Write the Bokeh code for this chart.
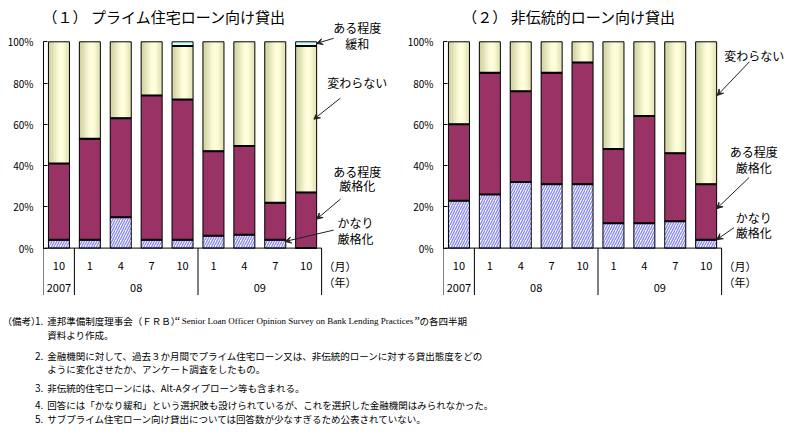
import numpy as np
from bokeh.plotting import figure
from bokeh.models import (Range1d, FixedTicker, PrintfTickFormatter, ColumnDataSource,
                          Arrow, VeeHead)
from bokeh.layouts import column, row
from bokeh.transform import dodge
from bokeh.core.properties import value
from bokeh.embed import file_html
from bokeh.resources import INLINE

# ---------------- data ----------------
months = ["10", "1", "4", "7", "10", "1", "4", "7", "10"]
years = ["2007", "08", "09"]
year_counts = [1, 4, 4]
month_unit = "（月）"
year_unit = "（年）"

title_prime = "（１） プライム住宅ローン向け貸出"
title_nontrad = "（２） 非伝統的ローン向け貸出"

# (1) prime mortgages, % of respondents
prime_much = [4, 4, 15, 4, 4, 6, 6.5, 4, 0]          # かなり厳格化
prime_some = [37, 49, 48, 70, 68, 41, 43, 18, 27]    # ある程度厳格化
prime_unch = [59, 47, 37, 26, 26, 53, 50.5, 78, 71]  # 変わらない
prime_ease = [0, 0, 0, 0, 2, 0, 0, 0, 2]             # ある程度緩和

# (2) nontraditional mortgages
nontrad_much = [23, 26, 32, 31, 31, 12, 12, 13, 4]
nontrad_some = [37, 59, 44, 54, 59, 36, 52, 33, 27]
nontrad_unch = [40, 15, 24, 15, 10, 52, 36, 54, 69]
nontrad_ease = [0, 0, 0, 0, 0, 0, 0, 0, 0]

y_ticks = [0, 20, 40, 60, 80, 100]

notes_head = "（備考）"
notes_numbers = ["1.", "2.", "3.", "4.", "5."]
note1_a = "連邦準備制度理事会（ＦＲＢ）"
note1_en = "Senior Loan Officer Opinion Survey on Bank Lending Practices"
note1_c = "の各四半期"
note_lines = [
    "資料より作成。",
    "金融機関に対して、過去３か月間でプライム住宅ローン又は、非伝統的ローンに対する貸出態度をどの",
    "ように変化させたか、アンケート調査をしたもの。",
    "非伝統的住宅ローンには、Alt-Aタイプローン等も含まれる。",
    "回答には「かなり緩和」という選択肢も設けられているが、これを選択した金融機関はみられなかった。",
    "サブプライム住宅ローン向け貸出については回答数が少なすぎるため公表されていない。",
]

# ---------------- style ----------------
JP = "Noto Sans CJK JP"
PX_X = 30.9      # pixels per category
PX_Y = 2.063     # pixels per percent
TOP_PX = 41.3    # pixel row of 100%
BAR_W = 0.68
MAROON = "#993366"
EASE = "#CCFFFF"
HATCH = "#8a8af2"
H = 300


def grad(t):
    left = np.array([212, 212, 166])
    peak = np.array([255, 255, 222])
    right = np.array([228, 228, 184])
    tp = 0.62
    if t < tp:
        s = 0.5 - 0.5 * np.cos(np.pi * t / tp)
        c = left + (peak - left) * s
    else:
        s = 0.5 - 0.5 * np.cos(np.pi * (1 - t) / (1 - tp))
        c = right + (peak - right) * s
    return "#%02x%02x%02x" % tuple(int(round(v)) for v in c)


def make_chart(width, title, much, some, unch, ease, ann):
    n = len(months)
    frame_w = width - 43
    y_max = 100 + TOP_PX / PX_Y
    p = figure(width=width, height=H, output_backend="svg", toolbar_location=None,
               x_range=Range1d(0, frame_w / PX_X),
               y_range=Range1d(y_max - H / PX_Y, y_max),
               x_axis_location=None,
               min_border_left=43, min_border_right=0,
               min_border_top=0, min_border_bottom=0)
    p.outline_line_color = None
    p.xgrid.visible = False
    p.ygrid.visible = False
    p.background_fill_color = "white"
    p.border_fill_color = "white"

    ax = p.yaxis[0]
    ax.ticker = FixedTicker(ticks=y_ticks)
    ax.formatter = PrintfTickFormatter(format="%d%%")
    ax.bounds = (0, 100)
    ax.major_tick_in = 4
    ax.major_tick_out = 0
    ax.minor_tick_line_color = None
    ax.axis_line_color = "black"
    ax.major_tick_line_color = "black"
    ax.major_label_text_font = JP
    ax.major_label_text_font_size = "10px"
    ax.major_label_text_color = "black"
    ax.major_label_standoff = 10

    much = np.array(much, float)
    some = np.array(some, float)
    unch = np.array(unch, float)
    ease = np.array(ease, float)
    t1 = much
    t2 = t1 + some
    t3 = t2 + unch
    t4 = t3 + ease
    xs = np.arange(n) + 0.5
    src = ColumnDataSource(dict(x=xs, t1=t1, t2=t2, t3=t3, t4=t4))

    # かなり厳格化 (hatched)
    p.vbar(x="x", bottom=0, top="t1", width=BAR_W, source=src,
           fill_color="white", hatch_pattern="/", hatch_color=HATCH,
           hatch_scale=5, hatch_weight=1.4, line_color="black", line_width=1)
    # ある程度厳格化
    p.vbar(x="x", bottom="t1", top="t2", width=BAR_W, source=src,
           fill_color=MAROON, line_color="black", line_width=1)
    # 変わらない (shaded)
    p.vbar(x="x", bottom="t2", top="t3", width=BAR_W, source=src,
           fill_color="#FFFFCC", line_color=None)
    ns = 14
    sw = BAR_W / ns
    for i in range(ns):
        off = -BAR_W / 2 + (i + 0.5) * sw
        p.vbar(x=dodge("x", off), bottom="t2", top="t3", width=sw * 1.25,
               source=src, fill_color=grad((i + 0.5) / ns), line_color=None)
    p.vbar(x="x", bottom="t2", top="t3", width=BAR_W, source=src,
           fill_color=None, line_color="black", line_width=1)
    # ある程度緩和
    has_ease = ease > 0
    esrc = ColumnDataSource(dict(x=xs[has_ease], t3=t3[has_ease], t4=t4[has_ease]))
    p.vbar(x="x", bottom="t3", top="t4", width=BAR_W, source=esrc,
           fill_color=EASE, line_color="black", line_width=1)

    # thick separators between segments
    sep_x = np.concatenate([xs, xs, xs[has_ease]])
    sep_y = np.concatenate([t1, t2, t3[has_ease]])
    ssrc = ColumnDataSource(dict(x=sep_x, y=sep_y))
    p.segment(x0=dodge("x", -BAR_W / 2), x1=dodge("x", BAR_W / 2), y0="y", y1="y",
              source=ssrc, line_color="black", line_width=2)

    # category table below the axis
    bounds = np.concatenate([[0], np.cumsum(year_counts)])
    p.segment(x0=[0], x1=[n], y0=[0], y1=[0], line_color="black", line_width=1)
    p.segment(x0=bounds, x1=bounds, y0=0, y1=-22.8, line_color="black", line_width=1)
    p.text(x=xs, y=-8.6, text=months, text_font=value(JP), text_font_size="11px",
           text_align="center", text_baseline="middle", text_color="black")
    ycent = bounds[:-1] + np.array(year_counts) / 2
    p.text(x=ycent, y=-19.1, text=years, text_font=value(JP), text_font_size="11px",
           text_align="center", text_baseline="middle", text_color="black")
    p.text(x=[n + 0.06, n + 0.06], y=[-8.6, -16.6], text=[month_unit, year_unit],
           text_font=value(JP), text_font_size="11px",
           text_align="left", text_baseline="middle", text_color="black")

    # title
    p.text(x=[ann["title_x"]], y=[112.1], text=[title], text_font=value(JP),
           text_font_size="15px", text_align="left", text_baseline="middle",
           text_color="black")

    # annotations
    for (tx, ty, txt) in ann["labels"]:
        p.text(x=[tx], y=[ty], text=[txt], text_font=value(JP), text_font_size="12px",
               text_align="center", text_baseline="middle", text_color="black")
    for (x0, y0, x1, y1) in ann["arrows"]:
        p.add_layout(Arrow(end=VeeHead(size=6, line_color="#222222", fill_color="#222222",
                                       line_width=1),
                           x_start=x0, y_start=y0, x_end=x1, y_end=y1,
                           line_color="#222222", line_width=1))
    return p


ann1 = dict(
    title_x=-0.03,
    labels=[(10.15, 106.8, "ある程度"), (10.15, 99.0, "緩和"),
            (10.15, 80.1, "変わらない"),
            (10.15, 37.0, "ある程度"), (10.15, 30.2, "厳格化"),
            (10.1, 12.4, "かなり"), (10.1, 4.5, "厳格化")],
    arrows=[(9.39, 101.7, 8.84, 99.2),
            (9.61, 72.7, 8.75, 62.5),
            (9.61, 23.75, 8.84, 14.06),
            (9.39, 8.73, 7.82, 3.2)],
)
ann2 = dict(
    title_x=0.61,
    labels=[(10.06, 93.5, "変わらない"),
            (10.04, 46.6, "ある程度"), (10.04, 39.3, "厳格化"),
            (10.04, 15.0, "かなり"), (10.04, 7.8, "厳格化")],
    arrows=[(9.90, 90.3, 8.86, 74.0),
            (9.89, 34.2, 8.84, 19.1),
            (9.40, 9.9, 8.84, 4.1)],
)

p1 = make_chart(400, title_prime, prime_much, prime_some, prime_unch, prime_ease, ann1)
p2 = make_chart(390, title_nontrad, nontrad_much, nontrad_some, nontrad_unch, nontrad_ease, ann2)

# ---------------- notes ----------------
pn = figure(width=790, height=136, output_backend="svg", toolbar_location=None,
            x_range=Range1d(0, 790), y_range=Range1d(436, 300),
            x_axis_location=None, y_axis_location=None,
            min_border_left=0, min_border_right=0, min_border_top=0, min_border_bottom=0)
pn.outline_line_color = None
pn.grid.visible = False

NFS = "9.5px"
row_y = [320.7, 334.3, 355.0, 368.3, 387.3, 404.3, 418.3]
num_rows = [0, 2, 4, 5, 6]
pn.text(x=[2], y=[row_y[0]], text=[notes_head], text_font=value(JP), text_font_size=NFS,
        text_align="left", text_baseline="middle", text_color="black")
pn.text(x=[34.5] * len(notes_numbers), y=[row_y[i] for i in num_rows], text=notes_numbers,
        text_font=value(JP), text_font_size="10px", text_align="left",
        text_baseline="middle", text_color="black")
pn.text(x=[46.7], y=[row_y[0]], text=[note1_a], text_font=value(JP), text_font_size=NFS,
        text_align="left", text_baseline="middle", text_color="black")
pn.text(x=[179.5], y=[row_y[0]], text=["“"], text_font=value("Liberation Serif"),
        text_font_size="12px", text_align="right", text_baseline="middle", text_color="black")
pn.text(x=[297], y=[row_y[0]], text=[note1_en], text_font=value("Liberation Serif"),
        text_font_size="9px", text_align="center", text_baseline="middle", text_color="black")
pn.text(x=[414], y=[row_y[0]], text=["”"], text_font=value("Liberation Serif"),
        text_font_size="12px", text_align="left", text_baseline="middle", text_color="black")
pn.text(x=[419], y=[row_y[0]], text=[note1_c], text_font=value(JP), text_font_size=NFS,
        text_align="left", text_baseline="middle", text_color="black")
pn.text(x=[46.7] * len(note_lines), y=row_y[1:], text=note_lines, text_font=value(JP),
        text_font_size=NFS, text_align="left", text_baseline="middle", text_color="black")

layout = column(row(p1, p2, spacing=0), pn, spacing=0)
open("out.html", "w").write(file_html(layout, INLINE))
